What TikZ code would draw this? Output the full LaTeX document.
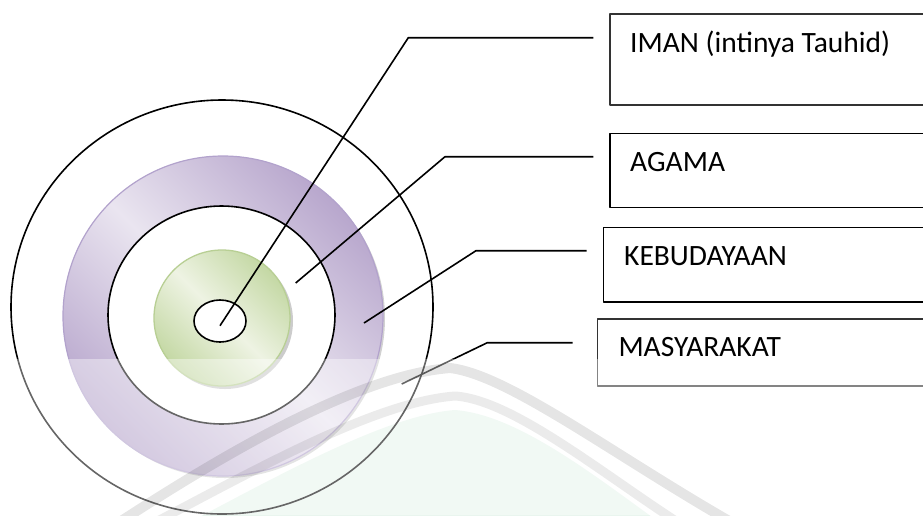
\documentclass[tikz,border=0pt]{standalone}
\usepackage{fontspec}
\setmainfont{Carlito}
\definecolor{purpD}{RGB}{184,167,205}
\definecolor{purpL}{RGB}{234,229,240}
\definecolor{purpE}{RGB}{178,162,204}
\definecolor{grnD}{RGB}{196,216,164}
\definecolor{grnL}{RGB}{238,243,227}
\definecolor{grnE}{RGB}{184,207,148}
\definecolor{wmgreen}{RGB}{233,245,238}
\begin{document}
\begin{tikzpicture}[x=1pt,y=-1pt,line join=round,
  ringline/.style={draw=black,line width=1.6pt},
  lead/.style={draw=black,line width=1.6pt},
  boxnode/.style={draw=black,line width=1.6pt,rectangle,anchor=north west,minimum width=420pt,inner sep=0pt},
  lbl/.style={anchor=base west,inner sep=0pt,font=\fontsize{29.5}{35}\selectfont}]
\useasboundingbox (0,0) rectangle (923,515);
\clip (0,0) rectangle (923,515);
% watermark green background
\fill[wmgreen] (175,530) .. controls (270,480) and (385,415) .. (455,410) .. controls (520,415) and (600,480) .. (670,530) -- cycle;
% purple disk shadow
\fill[black,opacity=0.18] (225,318) circle[radius=160];
% purple ring (disk, inner part whitened)
\shade[top color=purpD,bottom color=purpD,middle color=purpL,shading angle=-45] (223,316) circle[radius=160];
\draw[purpE,line width=1.2pt] (223,316) circle[radius=160];
\fill[white] (221.5,315) ellipse[x radius=113.5,y radius=109];
% second black circle
\draw[ringline] (221.5,315) ellipse[x radius=113.5,y radius=109];
% green disk shadow and disk
\fill[black,opacity=0.2] (225,321) circle[radius=68];
\shade[top color=grnD,bottom color=grnD,middle color=grnL,shading angle=-45] (222,318) circle[radius=68];
\draw[grnE,line width=1.3pt] (222,318) circle[radius=68];
% inner ellipse
\draw[ringline,fill=white] (220,321) ellipse[x radius=26,y radius=21];
% outer circle
\draw[ringline] (222,307) ellipse[x radius=211,y radius=207];
% boxes
\node[boxnode,draw=black!80,minimum height=91pt] (b1) at (609.3,13.3) {};
\node[boxnode,minimum height=74pt] (b2) at (609.3,132.7) {};
\node[boxnode,minimum height=74.3pt] (b3) at (602.7,226.7) {};
\node[boxnode,draw=black!80,minimum height=66.7pt] (b4) at (596.7,318.3) {};
\node[lbl] (t1) at (630,52.7) {IMAN (intinya Tauhid)};
\node[lbl] (t2) at (630,171.7) {AGAMA};
\node[lbl] (t3) at (624,265) {KEBUDAYAAN};
\node[lbl] (t4) at (618.3,356) {MASYARAKAT};
% leader lines
\coordinate (s1) at (220,325.7);
\coordinate (k1) at (408.3,37.7);
\coordinate (e1) at (593.3,37.7);
\coordinate (s2) at (295.7,283);
\coordinate (k2) at (445,156.7);
\coordinate (e2) at (593.3,156.7);
\coordinate (s3) at (364,323);
\coordinate (k3) at (476,250.7);
\coordinate (e3) at (586.7,250.7);
\coordinate (s4) at (401.7,384);
\coordinate (k4) at (487.3,342.7);
\coordinate (e4) at (572.7,342.7);
\draw[lead] (s1) -- (k1) -- (e1);
\draw[lead] (s2) -- (k2) -- (e2);
\draw[lead] (s3) -- (k3) -- (e3);
\draw[lead] (s4) -- (k4) -- (e4);
% faded lower part
\fill[white,opacity=0.4] (0,359) rectangle (923,515);
% watermark bands
\draw[black,opacity=0.1,line width=10pt] (115,525) .. controls (230,450) and (360,375) .. (450,368) .. controls (510,375) and (620,460) .. (745,530);
\draw[black,opacity=0.08,line width=9pt] (150,525) .. controls (255,470) and (375,402) .. (455,396) .. controls (515,400) and (610,480) .. (690,530);
\end{tikzpicture}
\end{document}
